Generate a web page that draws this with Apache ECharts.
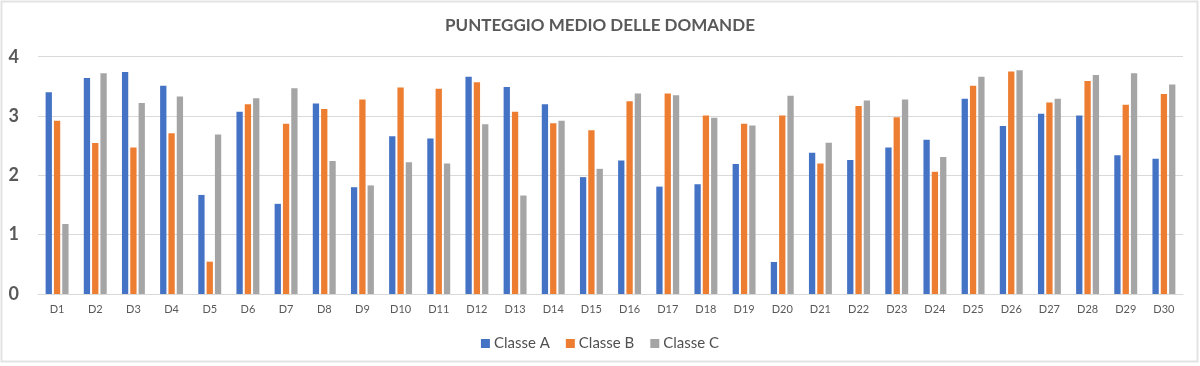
<!DOCTYPE html>
<html>
<head>
<meta charset="utf-8">
<script src="https://cdn.jsdelivr.net/npm/echarts@6/dist/echarts.min.js"></script>
<style>html,body{margin:0;padding:0;background:#fff;}#c{width:1200px;height:366px;}</style>
</head>
<body>
<div id="c"></div>
<script>
const categories = ['D1','D2','D3','D4','D5','D6','D7','D8','D9','D10','D11','D12','D13','D14','D15','D16','D17','D18','D19','D20','D21','D22','D23','D24','D25','D26','D27','D28','D29','D30'];
const classeA = [3.40,3.64,3.74,3.51,1.67,3.07,1.52,3.21,1.80,2.66,2.62,3.66,3.49,3.20,1.97,2.25,1.81,1.85,2.19,0.54,2.38,2.26,2.47,2.60,3.29,2.83,3.04,3.01,2.34,2.28];
const classeB = [2.92,2.545,2.47,2.71,0.545,3.20,2.87,3.12,3.28,3.48,3.46,3.57,3.07,2.88,2.76,3.25,3.38,3.01,2.87,3.01,2.20,3.17,2.98,2.06,3.51,3.75,3.23,3.59,3.19,3.37];
const classeC = [1.18,3.72,3.22,3.33,2.69,3.30,3.47,2.24,1.83,2.22,2.20,2.86,1.66,2.92,2.11,3.38,3.35,2.97,2.84,3.34,2.55,3.26,3.28,2.31,3.66,3.77,3.29,3.69,3.72,3.53];
const yTicks = [0,1,2,3,4];
const seriesNames = ['Classe A','Classe B','Classe C'];
const colors = ['#4472C4','#ED7D31','#A5A5A5'];
const FONT = 'Lato, "Open Sans", sans-serif';

const chart = echarts.init(document.getElementById('c'), null, {renderer:'canvas'});
const mk = (name, data, color) => ({
  name, type:'bar', data, barWidth:6.3, barGap:'32%',
  itemStyle:{color}, emphasis:{disabled:true}
});
chart.setOption({
  animation:false,
  backgroundColor:'#fff',
  textStyle:{fontFamily:FONT},
  graphic:[{type:'rect', shape:{x:1.5,y:1.5,width:1196,height:360}, style:{fill:'none', stroke:'#E3E3E3', lineWidth:2}, silent:true}],
  title:{text:'PUNTEGGIO MEDIO DELLE DOMANDE', left:'center', top:12,
    textStyle:{fontSize:17, fontWeight:'bold', color:'#595959', fontFamily:FONT}},
  legend:{data:seriesNames, top:331, left:'center', icon:'rect', itemWidth:9, itemHeight:9, itemGap:16,
    textStyle:{fontSize:15, color:'#505050', fontFamily:FONT, padding:[0,0,0,-1]}},
  grid:{left:38, right:17, top:56.7, bottom:72, containLabel:false},
  xAxis:{type:'category', data:categories,
    axisLine:{lineStyle:{color:'#D9D9D9'}}, axisTick:{show:false},
    axisLabel:{fontSize:11, color:'#595959', margin:10, fontFamily:FONT}},
  yAxis:{type:'value', min:yTicks[0], max:yTicks[yTicks.length-1], interval:1,
    axisLine:{show:false}, axisTick:{show:false},
    splitLine:{lineStyle:{color:'#D9D9D9'}},
    axisLabel:{fontSize:18, fontWeight:'bold', color:'#595959', margin:19, fontFamily:FONT}},
  series:[mk(seriesNames[0], classeA, colors[0]), mk(seriesNames[1], classeB, colors[1]), mk(seriesNames[2], classeC, colors[2])]
});
</script>
</body>
</html>
